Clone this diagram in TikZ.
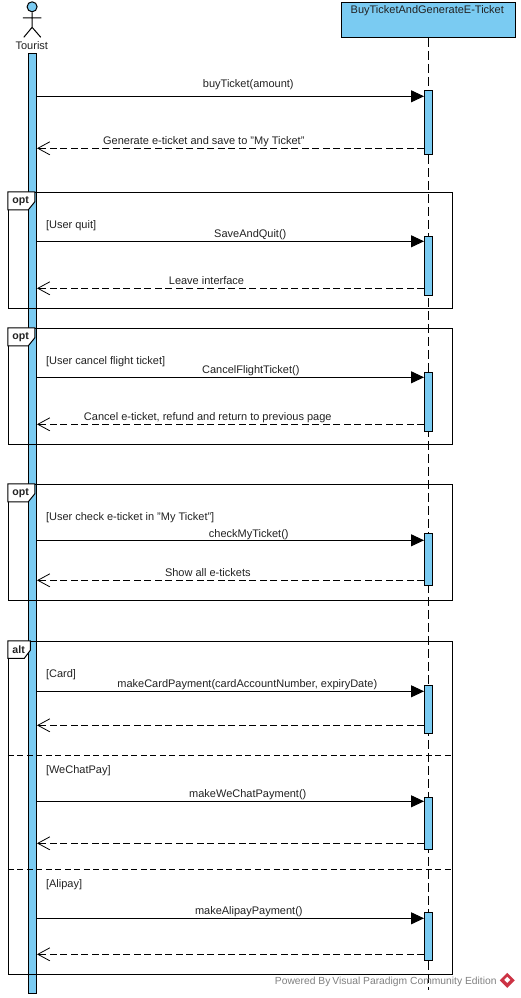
\documentclass[tikz,border=0pt]{standalone}
\usepackage{fontspec}
\setmainfont{Liberation Sans}
\usetikzlibrary{arrows.meta,calc}
\definecolor{barblue}{HTML}{7ACBF2}
\definecolor{inkdark}{HTML}{222222}
\definecolor{vpred}{HTML}{CC3344}
\tikzset{
  x=1pt,y=-1pt,
  base/.style={line width=1pt,draw=black},
  barnode/.style={base,fill=barblue,inner sep=0pt,minimum width=8pt},
  msg/.style={base,-{Triangle[length=13pt,width=12pt,fill=black]}},
  reply/.style={base,dash pattern=on 7pt off 3.5pt,-{Straight Barb[length=12pt,width=13pt,line width=.8pt]}},
  lifeline/.style={base,dash pattern=on 9pt off 4pt},
  frameline/.style={base},
  sepline/.style={base,dash pattern=on 6pt off 3.5pt},
  lbl/.style={font=\fontsize{11}{12}\selectfont,text=inkdark,inner sep=0pt,anchor=center},
  guard/.style={lbl,anchor=west},
  tagtext/.style={font=\fontsize{10.6}{12}\selectfont\bfseries,text=inkdark,inner sep=0pt,anchor=west},
}
\newcommand{\activation}[3]{\node[barnode,minimum height=#3-#2,anchor=north] (#1) at (429.2,#2) {};}
\begin{document}
\begin{tikzpicture}
\useasboundingbox (0,0) rectangle (520,998);
\begin{scope}[xshift=-0.7pt,yshift=0.7pt]
% lifelines
\node[base,fill=barblue,inner sep=0pt,minimum width=174pt,minimum height=35pt,anchor=north west] (sys) at (341.5,2.5) {};
\node[lbl] (systxt) at (428,11.5) {BuyTicketAndGenerateE-Ticket};
\coordinate (sysend) at (429.2,991);
\draw[lifeline] (sys.south -| sysend) -- (sysend);
\node[barnode,minimum height=940pt,anchor=north] (tbar) at (33.2,53.5) {};
% actor
\node[base,circle,fill=barblue,inner sep=0pt,minimum size=10pt] (head) at (32.8,7.5) {};
\coordinate (hip) at (32.8,28);
\coordinate (armL) at (23.5,18.5);
\coordinate (armR) at (42,18.5);
\coordinate (legL) at (24.5,38);
\coordinate (legR) at (41.5,38);
\draw[base] (head.south) -- (hip) (armL) -- (armR) (legL) -- (hip) -- (legR);
\node[lbl] (tourist) at (32.5,46.5) {Tourist};
% activations
\activation{a1}{90.5}{155}
\activation{a2}{236.5}{296}
\activation{a3}{372.5}{432}
\activation{a4}{533.5}{585.5}
\activation{a5}{685.5}{734}
\activation{a6}{797.5}{850}
\activation{a7}{912.5}{961}
% frames
\node[frameline,inner sep=0pt,minimum width=444pt,minimum height=116pt,anchor=north west] (f1) at (8.5,192.5) {};
\node[frameline,inner sep=0pt,minimum width=444pt,minimum height=116pt,anchor=north west] (f2) at (8.5,328.5) {};
\node[frameline,inner sep=0pt,minimum width=444pt,minimum height=116pt,anchor=north west] (f3) at (8.5,484.5) {};
\node[frameline,inner sep=0pt,minimum width=444pt,minimum height=333.5pt,anchor=north west] (f4) at (8.5,641.5) {};
% frame tags
\foreach \y in {192.5,328.5,484.5}{
  \draw[base,fill=white] (8.5,\y) -- (35.5,\y) -- (35.5,\y+10) -- (29,\y+18) -- (8.5,\y+18) -- cycle;
}
\draw[base,fill=white] (8.5,641.5) -- (31,641.5) -- (31,651) -- (25,659) -- (8.5,659) -- cycle;
\node[tagtext] (t1) at (13,201.5) {opt};
\node[tagtext] (t2) at (13,337.5) {opt};
\node[tagtext] (t3) at (13,493.5) {opt};
\node[tagtext] (t4) at (13,650.5) {alt};
% separators
\coordinate (s1) at (0,756);
\coordinate (s2) at (0,870);
\draw[sepline] (f4.west |- s1) -- (f4.east |- s1);
\draw[sepline] (f4.west |- s2) -- (f4.east |- s2);
% messages
\foreach \n/\ys/\ye/\act in {1/97/149/a1,2/242/289/a2,3/378/425/a3,4/541/581/a4,5/692/726/a5,6/802/844/a6,7/919/955/a7}{
  \coordinate (ms\n) at (0,\ys);
  \coordinate (mr\n) at (0,\ye);
  \draw[msg] (tbar.east |- ms\n) -- (\act.west |- ms\n);
  \draw[reply] (\act.west |- mr\n) -- (tbar.east |- mr\n);
}
% labels
\node[lbl] (l1) at (249,85.5) {buyTicket(amount)};
\node[lbl] (l2) at (204.5,142) {Generate e-ticket and save to "My Ticket"};
\node[lbl] (l3) at (251,235.5) {SaveAndQuit()};
\node[lbl] (l4) at (207.2,281.5) {Leave interface};
\node[lbl] (l5) at (251.5,371.5) {CancelFlightTicket()};
\node[lbl] (l6) at (208.5,418) {Cancel e-ticket, refund and return to previous page};
\node[lbl] (l7) at (249.5,535.5) {checkMyTicket()};
\node[lbl] (l8) at (208.5,573.5) {Show all e-tickets};
\node[lbl] (l9) at (248,685.5) {makeCardPayment(cardAccountNumber, expiryDate)};
\node[lbl] (l10) at (248.5,795.5) {makeWeChatPayment()};
\node[lbl] (l11) at (249.5,912.5) {makeAlipayPayment()};
\node[guard] (g1) at (46.5,226) {[User quit]};
\node[guard] (g2) at (46.5,362) {[User cancel flight ticket]};
\node[guard] (g3) at (46.5,518) {[User check e-ticket in "My Ticket"]};
\node[guard] (g4) at (46.5,675) {[Card]};
\node[guard] (g5) at (46.5,771) {[WeChatPay]};
\node[guard] (g6) at (46.5,885) {[Alipay]};
% footer
\node[lbl,font=\fontsize{10.3}{12}\selectfont,text=black!50,anchor=east] (foot) at (497.5,982.5) {Powered By\kern2pt Visual Paradigm Community Edition};
\fill[vpred] (508,973.5) -- (515.5,981) -- (508,988.5) -- (500.5,981) -- cycle;
\fill[white] (508,977.5) -- (511,980.5) -- (508,983.5) -- (505,980.5) -- cycle;
\end{scope}
\end{tikzpicture}
\end{document}
